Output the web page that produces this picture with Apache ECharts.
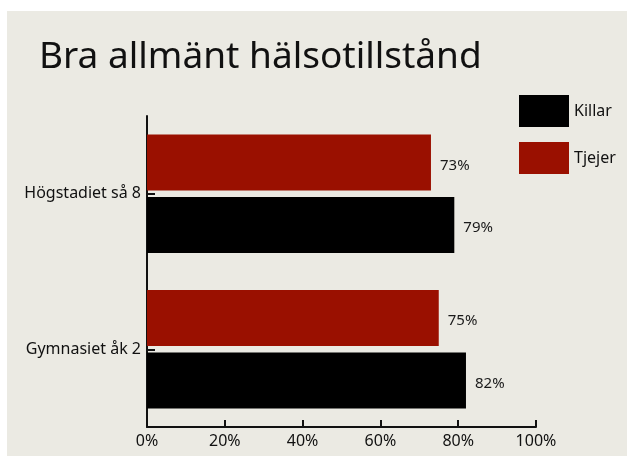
<!DOCTYPE html>
<html>
<head>
<meta charset="utf-8">
<script src="https://cdn.jsdelivr.net/npm/echarts@6/dist/echarts.min.js"></script>
<style>
  html, body { margin: 0; padding: 0; background: #fff; }
  #wrap { position: absolute; left: 7px; top: 11px; width: 620px; height: 445px; background: #ebeae3; }
  #chart { position: absolute; left: -7px; top: -11px; width: 627px; height: 456px; }
</style>
</head>
<body>
<div id="wrap"><div id="chart"></div></div>
<script>
const categories = ['Gymnasiet åk 2', 'Högstadiet så 8']
const killar = [82, 79]
const tjejer = [75, 73]
const ticks = [0, 20, 40, 60, 80, 100]

const myChart = echarts.init(document.getElementById('chart'))
const labelStyle = {
  show: true,
  position: 'right',
  distance: 9,
  offset: [0, 3],
  formatter: '{c}%',
  fontFamily: 'Noto Sans',
  fontSize: 15,
  color: '#1a1a1a'
}
myChart.setOption({
  animation: false,
  textStyle: { fontFamily: 'Noto Sans' },
  title: {
    text: 'Bra allmänt hälsotillstånd',
    left: 34,
    top: 34,
    textStyle: { fontSize: 37, fontWeight: 'normal', color: '#111', fontFamily: 'Noto Sans' }
  },
  legend: {
    orient: 'vertical',
    left: 519,
    top: 95,
    padding: 0,
    itemWidth: 50,
    itemHeight: 32,
    itemGap: 15,
    icon: 'rect',
    textStyle: { fontSize: 16, color: '#111' },
    data: ['Killar', 'Tjejer']
  },
  grid: { left: 147, right: 91, top: 116, bottom: 29 },
  xAxis: {
    type: 'value',
    min: 0,
    max: 100,
    interval: 20,
    splitLine: { show: false },
    axisLine: { show: true, lineStyle: { color: '#111', width: 2 } },
    axisTick: { show: true, inside: true, length: 7, lineStyle: { color: '#111', width: 2 } },
    axisLabel: { formatter: v => ticks.includes(v) ? v + '%' : '', fontSize: 16, color: '#111', margin: 6 }
  },
  yAxis: {
    type: 'category',
    data: categories,
    axisLine: { show: true, lineStyle: { color: '#111', width: 2 } },
    axisTick: { show: true, inside: true, alignWithLabel: true, length: 8, lineStyle: { color: '#111', width: 2 } },
    axisLabel: { fontSize: 16, color: '#111', margin: 6 }
  },
  series: [
    {
      name: 'Tjejer',
      type: 'bar',
      data: tjejer,
      barWidth: 56,
      barGap: '12%',
      itemStyle: { color: '#9a1000' },
      label: labelStyle
    },
    {
      name: 'Killar',
      type: 'bar',
      data: killar,
      barWidth: 56,
      barGap: '12%',
      itemStyle: { color: '#000' },
      label: labelStyle
    }
  ]
})
</script>
</body>
</html>
